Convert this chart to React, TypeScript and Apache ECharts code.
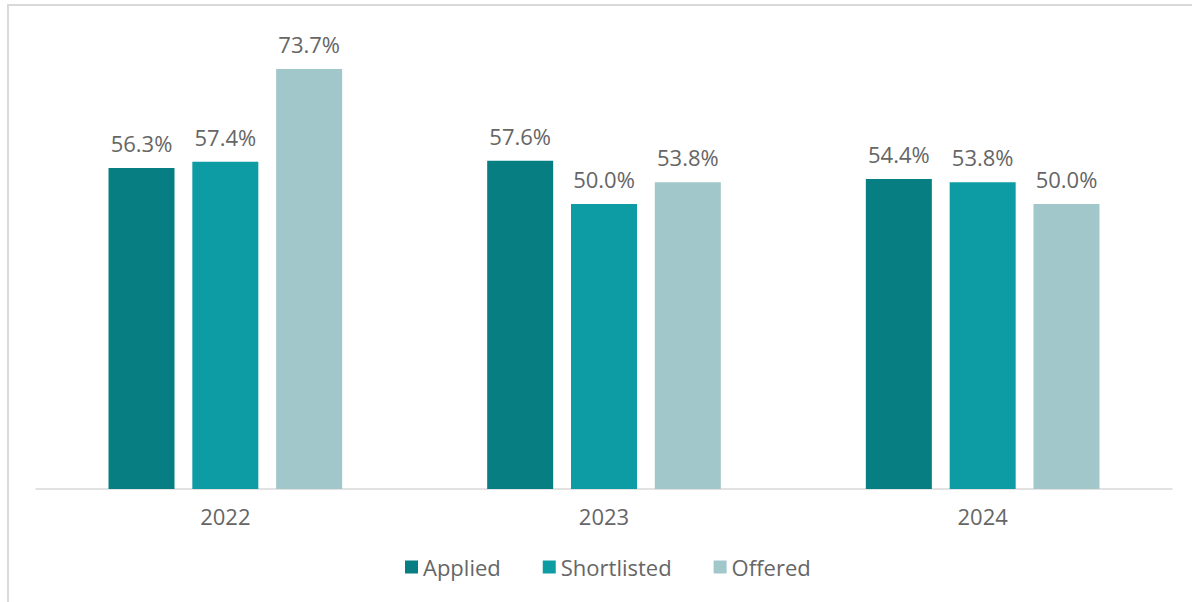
import React, { useEffect, useRef } from "react";
import * as echarts from "echarts";

const categories = ["2022", "2023", "2024"];
const applied = [56.3, 57.6, 54.4];
const shortlisted = [57.4, 50.0, 53.8];
const offered = [73.7, 53.8, 50.0];
const seriesNames = ["Applied", "Shortlisted", "Offered"];
const colors = ["#077f82", "#0d9ca3", "#a2c7ca"];

export default function App() {
  const ref = useRef<HTMLDivElement>(null);
  useEffect(() => {
    if (!ref.current) return;
    const chart = echarts.init(ref.current, null, { renderer: "svg" });
    const font = "'Open Sans', sans-serif";
    const textColor = "#666666";
    const mk = (name: string, data: number[], color: string) => ({
      name,
      type: "bar",
      data,
      barWidth: 66,
      barGap: "27%",
      itemStyle: { color },
      label: {
        show: true,
        position: "top",
        distance: 14,
        formatter: (p: any) => p.value.toFixed(1) + "%",
        color: textColor,
        fontSize: 22,
        fontFamily: font,
      },
    });
    chart.setOption({
      animation: false,
      grid: { left: 36, right: 20, top: 33, bottom: 113, containLabel: false },
      legend: {
        bottom: 19,
        left: 400,
        itemWidth: 13,
        itemHeight: 13,
        itemGap: 42,
        icon: "rect",
        textStyle: { color: textColor, fontSize: 22, fontFamily: font },
        data: seriesNames,
      },
      xAxis: {
        type: "category",
        data: categories,
        axisLine: { lineStyle: { color: "#d9d9d9", width: 1.5 } },
        axisTick: { show: false },
        axisLabel: { color: textColor, fontSize: 22, fontFamily: font, margin: 16 },
      },
      yAxis: {
        type: "value",
        min: 0,
        max: 80,
        show: false,
        splitLine: { show: false },
      },
      series: [
        mk(seriesNames[0], applied, colors[0]),
        mk(seriesNames[1], shortlisted, colors[1]),
        mk(seriesNames[2], offered, colors[2]),
      ],
    });
    return () => chart.dispose();
  }, []);
  return (
    <div style={{ position: "fixed", left: 0, top: 0, width: 1192, height: 602, overflow: "hidden", background: "#fff" }}>
      <div style={{ position: "absolute", left: 7, top: 4, width: 1300, height: 700, border: "2px solid #d9d9d9", boxSizing: "border-box" }} />
      <div ref={ref} style={{ position: "absolute", left: 0, top: 0, width: 1192, height: 602 }} />
    </div>
  );
}
